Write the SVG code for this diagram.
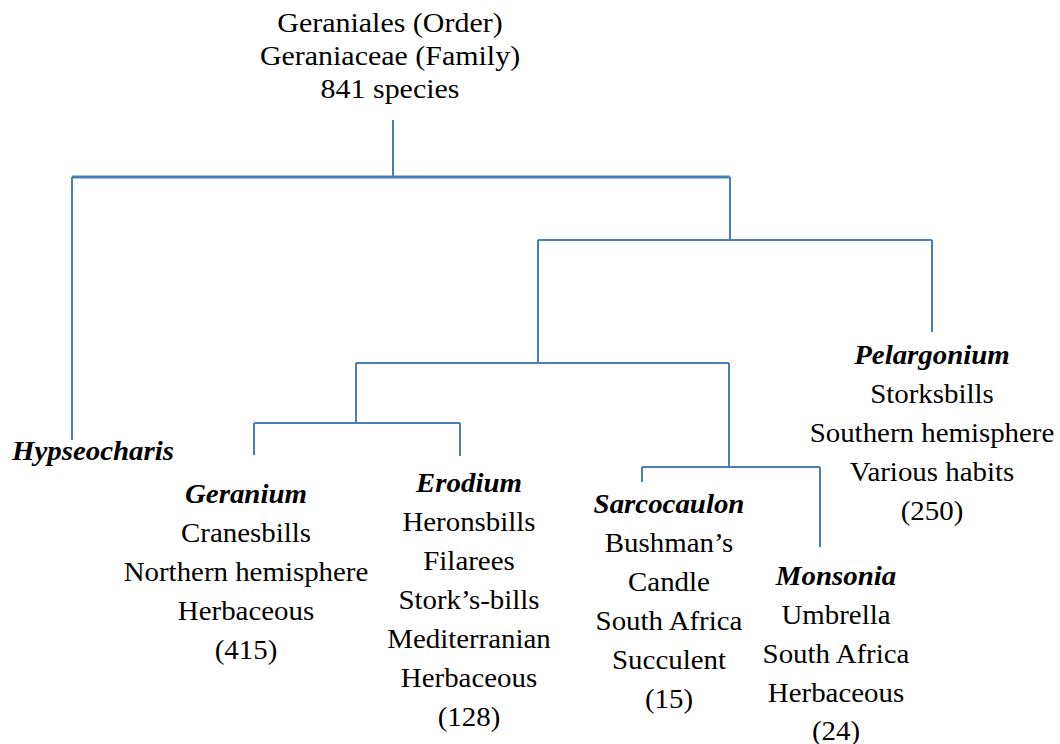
<svg xmlns="http://www.w3.org/2000/svg" width="1060" height="744" viewBox="0 0 1060 744">
<style>
text{font-family:"Liberation Serif","Times New Roman",serif;font-size:27px;fill:#000;text-anchor:middle}
.g{font-weight:bold;font-style:italic}
.top{font-size:28px}
#connectors path{fill:none;stroke:#4A7EBB;stroke-width:2}
</style>
<rect width="1060" height="744" fill="#fff"/>
<g id="connectors">
<path d="M393 120V177"/>
<path d="M72 177H730" style="stroke-width:3"/>
<path d="M72 177V440"/>
<path d="M730 177V240"/>
<path d="M538 240H932"/>
<path d="M932 240V332"/>
<path d="M538 240V363"/>
<path d="M356 363H729"/>
<path d="M356 363V423"/>
<path d="M254 423H460"/>
<path d="M254 423V455"/>
<path d="M460 423V456"/>
<path d="M729 363V467"/>
<path d="M642 467H820"/>
<path d="M642 467V482"/>
<path d="M820 467V547"/>
</g>
<g id="root" transform="translate(390 0) scale(1.07 1)">
<text class="top" x="0" y="32">Geraniales (Order)</text>
<text class="top" x="0" y="65">Geraniaceae (Family)</text>
<text class="top" x="0" y="98">841 species</text>
</g>
<g id="hypseocharis" transform="translate(93 0) scale(1.07 1)">
<text class="g" x="0" y="460">Hypseocharis</text>
</g>
<g id="geranium" transform="translate(246 0) scale(1.07 1)">
<text class="g" x="0" y="503">Geranium</text>
<text x="0" y="542">Cranesbills</text>
<text x="0" y="581">Northern hemisphere</text>
<text x="0" y="620">Herbaceous</text>
<text x="0" y="659">(415)</text>
</g>
<g id="erodium" transform="translate(469 0) scale(1.07 1)">
<text class="g" x="0" y="492">Erodium</text>
<text x="0" y="531">Heronsbills</text>
<text x="0" y="570">Filarees</text>
<text x="0" y="609">Stork’s-bills</text>
<text x="0" y="648">Mediterranian</text>
<text x="0" y="687">Herbaceous</text>
<text x="0" y="726">(128)</text>
</g>
<g id="sarcocaulon" transform="translate(669 0) scale(1.07 1)">
<text class="g" x="0" y="513">Sarcocaulon</text>
<text x="0" y="552">Bushman’s</text>
<text x="0" y="591">Candle</text>
<text x="0" y="630">South Africa</text>
<text x="0" y="669">Succulent</text>
<text x="0" y="708">(15)</text>
</g>
<g id="monsonia" transform="translate(836 0) scale(1.07 1)">
<text class="g" x="0" y="585">Monsonia</text>
<text x="0" y="624">Umbrella</text>
<text x="0" y="663">South Africa</text>
<text x="0" y="702">Herbaceous</text>
<text x="0" y="740">(24)</text>
</g>
<g id="pelargonium" transform="translate(932 0) scale(1.07 1)">
<text class="g" x="0" y="364">Pelargonium</text>
<text x="0" y="403">Storksbills</text>
<text x="0" y="442">Southern hemisphere</text>
<text x="0" y="481">Various habits</text>
<text x="0" y="520">(250)</text>
</g>
</svg>
